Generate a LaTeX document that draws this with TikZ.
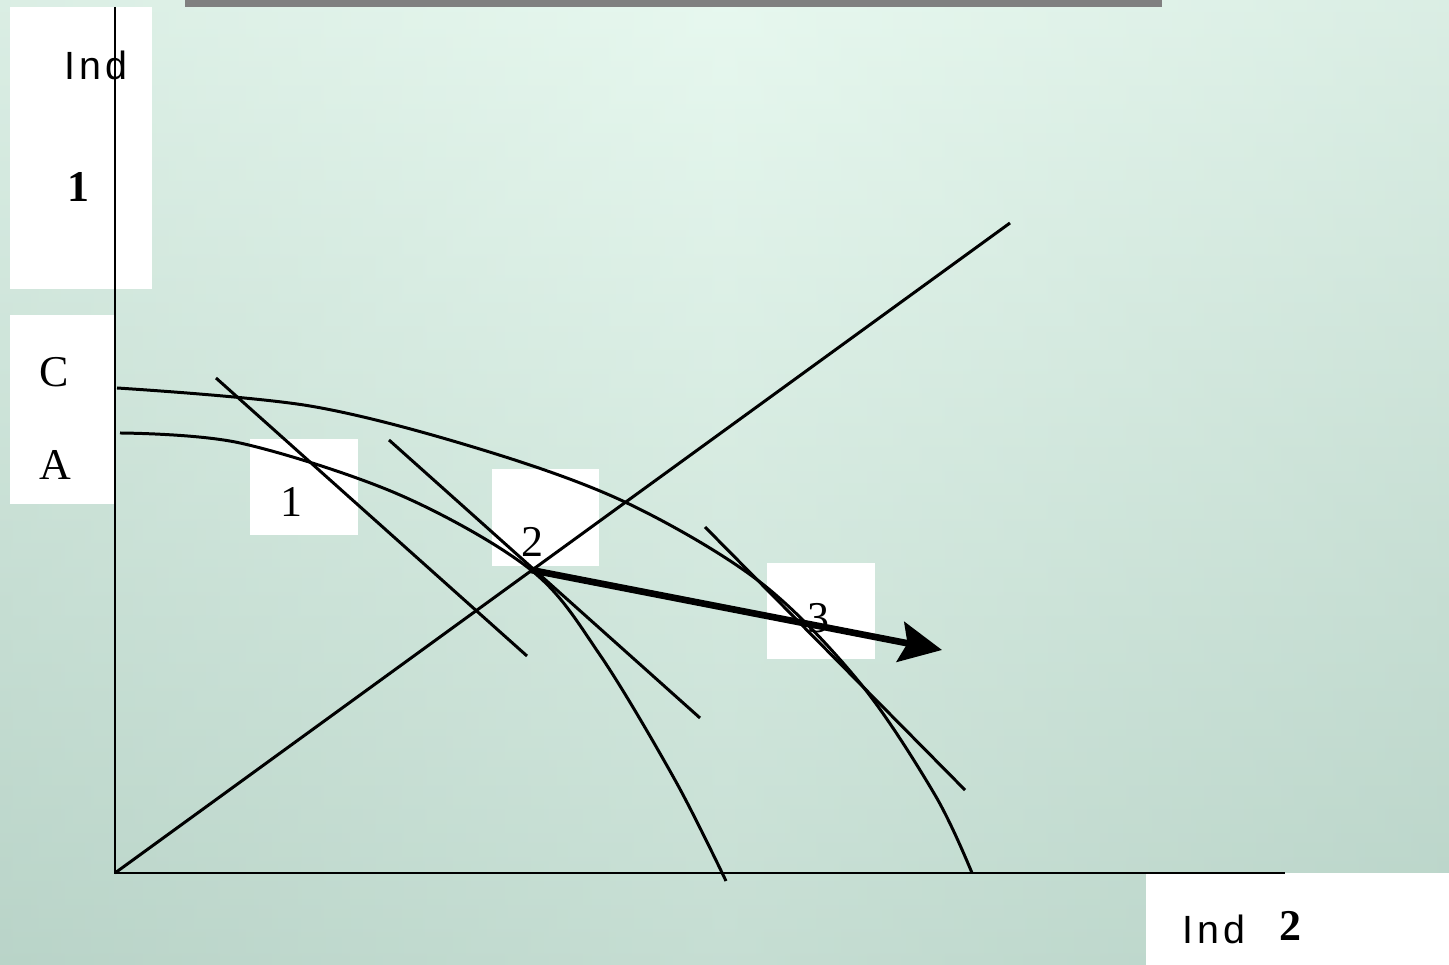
\documentclass[tikz,border=0pt]{standalone}
\usepackage{fontspec}
\setmainfont{Liberation Serif}
\newfontfamily\indfont[LetterSpace=10]{Liberation Sans}
\usetikzlibrary{arrows.meta}
\definecolor{bgtop}{RGB}{231,248,239}
\definecolor{bgbot}{RGB}{180,208,196}
\definecolor{bgside}{RGB}{196,220,209}
\definecolor{barGray}{RGB}{128,128,128}

\begin{document}
\begin{tikzpicture}[x=0.01cm, y=-0.01cm, font=\fontsize{12.5}{15}\selectfont,
    curve/.style={black, line width=0.85pt},
    labbox/.style={fill=white},
    lab/.style={inner sep=0pt, anchor=base}]
  % background
  \shade[top color=bgtop, bottom color=bgbot] (0,0) rectangle (1449,965);
  \shade[left color=bgside, right color=bgside, middle color=bgtop, opacity=0.35] (0,0) rectangle (1449,965);
  \fill[barGray] (185,0) rectangle (1162,7);
  % white boxes behind the labels
  \fill[labbox] (10,7) rectangle (152,289);
  \fill[labbox] (10,315) rectangle (115,504);
  \fill[labbox] (250,439) rectangle (358,535);
  \fill[labbox] (492,469) rectangle (599,566);
  \fill[labbox] (767,563) rectangle (875,659);
  \fill[labbox] (1146,873) rectangle (1449,965);
  % labels
  \node[lab, anchor=base west] (yInd) at (64,80) {\fontsize{11.2}{13}\indfont Ind};
  \node[lab] (yOne) at (78,202) {\textbf{1}};
  \node[lab] (labC) at (54,387) {C};
  \node[lab] (labA) at (55,480) {A};
  \node[lab] (lab1) at (291,517) {1};
  \node[lab] (lab2) at (532,557) {2};
  \node[lab] (lab3) at (818,633) {3};
  \node[lab, anchor=base west] (xInd) at (1182,944) {\fontsize{11.2}{13}\indfont Ind};
  \node[lab] (xTwo) at (1290,941) {\textbf{2}};
  % axes and ray
  \coordinate (O) at (115,873);
  \coordinate (yTop) at (115,7);
  \coordinate (xEnd) at (1285,873);
  \coordinate (rayEnd) at (1010,223);
  \draw[curve] (yTop) -- (O) -- (xEnd);
  \draw[curve] (O) -- (rayEnd);
  % production frontiers
  \draw[curve] plot[smooth, tension=0.55] coordinates {(117,388) (310,406) (483,450) (627,503) (760,582) (860,683) (935,795) (972,873)};
  \draw[curve] plot[smooth, tension=0.55] coordinates {(120,433) (240,443) (400,495) (531,570) (600,655) (675,780) (726,881)};
  % price lines
  \coordinate (P2) at (531,570);
  \draw[curve] (216,378) -- (527,656);
  \draw[curve] (389,440) -- (700,718);
  \draw[curve] (705,527) -- (965,790);
  % growth arrow
  \coordinate (arrEnd) at (942,650);
  \draw[line width=1.9pt, -{Stealth[length=12pt, width=11.5pt, inset=2pt]}] (P2) -- (arrEnd);
\end{tikzpicture}
\end{document}
